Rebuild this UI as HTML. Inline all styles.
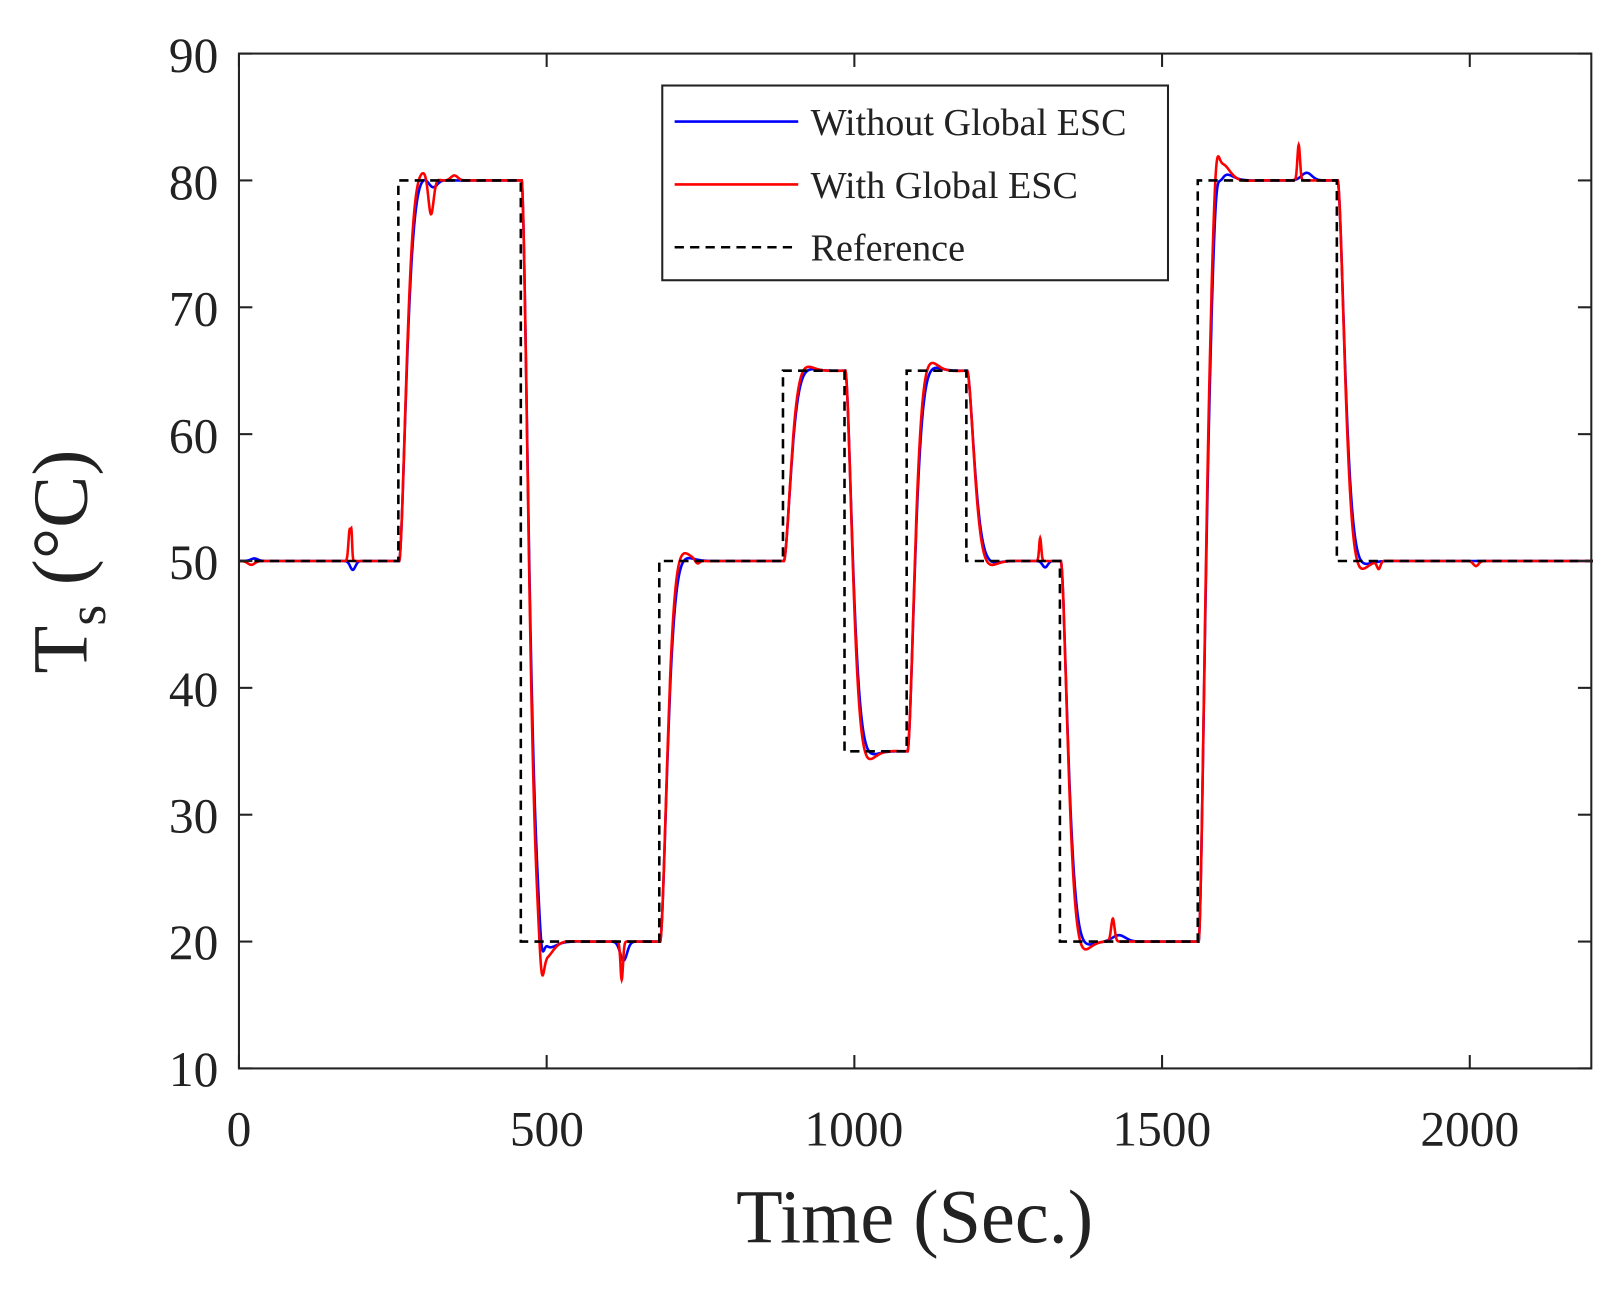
<!DOCTYPE html>
<html><head><meta charset="utf-8"><style>
html,body{margin:0;padding:0;background:#fff}
svg{display:block}
text{font-family:"Liberation Serif",serif;fill:#222}
</style></head><body>
<svg id="s" width="1615" height="1292" viewBox="0 0 1568 1254" preserveAspectRatio="none" xmlns="http://www.w3.org/2000/svg">
<rect x="0" y="0" width="1568" height="1254" fill="#fff"/>
<g id="plot"></g>
<rect x="232" y="52" width="1313" height="985" fill="none" stroke="#222" stroke-width="2"/>
<g id="ticks" stroke="#222" stroke-width="2"></g>
<g font-size="48" text-anchor="end">
<text x="212" y="1054">10</text><text x="212" y="931">20</text><text x="212" y="808">30</text><text x="212" y="685">40</text><text x="212" y="562">50</text><text x="212" y="439">60</text><text x="212" y="316">70</text><text x="212" y="193">80</text><text x="212" y="70">90</text>
</g>
<g font-size="48" text-anchor="middle">
<text x="232" y="1112">0</text><text x="531" y="1112">500</text><text x="829" y="1112">1000</text><text x="1128" y="1112">1500</text><text x="1427" y="1112">2000</text>
</g>
<text x="888" y="1206" font-size="74" text-anchor="middle">Time (Sec.)</text>
<text transform="translate(84,545) rotate(-90)" font-size="76" text-anchor="middle">T<tspan font-size="52" dy="18">s</tspan><tspan dy="-18"> (°C)</tspan></text>
<rect x="643" y="83" width="491" height="189" fill="#fff" stroke="#222" stroke-width="2"/>
<line x1="655" y1="118" x2="775" y2="118" stroke="#0000ff" stroke-width="2.5"/>
<line x1="655" y1="179" x2="775" y2="179" stroke="#ff0000" stroke-width="2.5"/>
<line x1="655" y1="240" x2="775" y2="240" stroke="#000" stroke-width="2.5" stroke-dasharray="9,6"/>
<g font-size="37"><text x="787" y="131">Without Global ESC</text><text x="787" y="192">With Global ESC</text><text x="787" y="253">Reference</text></g>
</svg>
<script>
var X=t=>232+t*0.5975, Y=v=>1037-(v-10)*12.3125;
var steps=[[0,50],[259,80],[458,20],[683,50],[884,65],[984,35],[1085,65],[1182,50],[1334,20],[1558,80],[1784,50]];
function ref(t){var v=50;for(var s of steps){if(t>=s[0])v=s[1];}return v;}
function bumps(t,list){var d=0;for(var b of list){var x=(t-b[0])/b[2];if(x>-3)d+=b[1]*Math.exp(-x*x);}return d;}
var redB=[[180,2.5,3],[183,1.5,1.5],[312,-3,6],[350,0.4,8],[492,-2.2,5],[622,-3,3],[745,-0.3,5],[1302,1.8,2.5],[1420,1.8,4],[1588,2.5,6],[1722,2.8,3],[1852,-0.6,4],[2010,-0.4,6],[20,-0.3,8]];
var bluB=[[185,-0.7,6],[315,-0.7,10],[492,-1.8,5],[625,-1.5,8],[1310,-0.5,6],[1430,0.5,15],[1588,2,6],[1735,0.6,12],[25,0.2,8]];
function sim(list,zeta,wn){var y=50,v=0,dt=0.5,pts=[];for(var t=0;t<=2200;t+=dt){var r=ref(t-2);var a=wn*wn*(r-y)-2*zeta*wn*v;v+=a*dt;y+=v*dt;pts.push([t,y+bumps(t,list)]);}return pts;}
function path(p){return p.map((q,i)=>(i?'L':'M')+X(q[0]).toFixed(1)+' '+Y(q[1]).toFixed(1)).join('');}
var ns="http://www.w3.org/2000/svg",g=document.getElementById('plot');
function add(d,c,dash){var e=document.createElementNS(ns,'path');e.setAttribute('d',d);e.setAttribute('fill','none');e.setAttribute('stroke',c);e.setAttribute('stroke-width','2.5');if(dash)e.setAttribute('stroke-dasharray',dash);g.appendChild(e);}
add(path(sim(bluB,0.82,0.12)),'#0000ff');
add(path(sim(redB,0.76,0.12)),'#ff0000');
var rd='M'+X(0)+' '+Y(50);for(var i=1;i<steps.length;i++){rd+='L'+X(steps[i][0])+' '+Y(steps[i-1][1])+'L'+X(steps[i][0])+' '+Y(steps[i][1]);}rd+='L'+X(2200)+' '+Y(50);
add(rd,'#000','9,6');
var tk=document.getElementById('ticks'),h='';
for(var v=10;v<=90;v+=10){var y=Y(v);h+='<line x1="232" y1="'+y+'" x2="245" y2="'+y+'"/><line x1="1545" y1="'+y+'" x2="1532" y2="'+y+'"/>';}
for(var t=0;t<=2000;t+=500){var x=X(t);h+='<line x1="'+x+'" y1="1037" x2="'+x+'" y2="1024"/><line x1="'+x+'" y1="52" x2="'+x+'" y2="65"/>';}
tk.innerHTML=h;
</script>
</body></html>
